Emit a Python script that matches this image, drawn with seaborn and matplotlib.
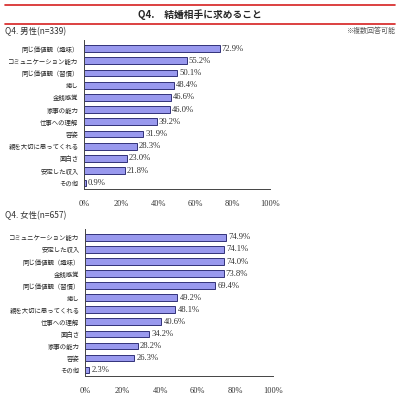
import pandas as pd
import matplotlib
matplotlib.use("Agg")
import matplotlib.pyplot as plt
import seaborn as sns
from matplotlib.lines import Line2D

sns.set_style("white")
plt.rcParams['font.family'] = ['Noto Sans CJK JP', 'DejaVu Sans']

# data
male_items = ["同じ価値観（趣味）", "コミュニケーション能力", "同じ価値観（習慣）", "癒し",
              "金銭感覚", "家事の能力", "仕事への理解", "容姿", "親を大切に思ってくれる",
              "面白さ", "安定した収入", "その他"]
male_pct = [72.9, 55.2, 50.1, 48.4, 46.6, 46.0, 39.2, 31.9, 28.3, 23.0, 21.8, 0.9]

female_items = ["コミュニケーション能力", "安定した収入", "同じ価値観（趣味）", "金銭感覚",
                "同じ価値観（習慣）", "癒し", "親を大切に思ってくれる", "仕事への理解",
                "面白さ", "家事の能力", "容姿", "その他"]
female_pct = [74.9, 74.1, 74.0, 73.8, 69.4, 49.2, 48.1, 40.6, 34.2, 28.2, 26.3, 2.3]

ticks = [0, 20, 40, 60, 80, 100]
tick_labels = ["0%", "20%", "40%", "60%", "80%", "100%"]

W, H = 400, 397
fig = plt.figure(figsize=(W / 100, H / 100), dpi=100)

def px_axes(x0, y0, x1, y1):
    return fig.add_axes([x0 / W, 1 - y1 / H, (x1 - x0) / W, (y1 - y0) / H])

# header lines + title
for y in (5, 24):
    fig.add_artist(Line2D([5 / W, 395 / W], [1 - y / H, 1 - y / H], color="#d62020", lw=1.2))
fig.text(0.5, 1 - 14.5 / H, "Q4.　結婚相手に求めること", ha="center", va="center",
         fontsize=7, fontweight="bold")
fig.text(5 / W, 1 - 32 / H, "Q4. 男性(n=339)", ha="left", va="center", fontsize=6, color="#333333")
fig.text(395 / W, 1 - 31 / H, "※複数回答可能", ha="right", va="center", fontsize=5, color="#555555")
fig.text(5 / W, 1 - 216 / H, "Q4. 女性(n=657)", ha="left", va="center", fontsize=6, color="#333333")


def draw(ax, items, vals):
    df = pd.DataFrame({"item": items, "pct": vals})
    sns.barplot(data=df, y="item", x="pct", orient="h", ax=ax, color="#9999ee",
                saturation=1, edgecolor="#1a1a66", linewidth=0.6, width=0.55)
    ax.set_xlim(0, 100)
    ax.set_xticks(ticks)
    ax.set_xticklabels(tick_labels, fontsize=6, family=["Liberation Serif"], color="#333333")
    ax.tick_params(axis="x", direction="in", length=2.5, width=0.6, pad=8, color="#444444")
    ax.tick_params(axis="y", direction="out", length=2, width=0.6, pad=2, labelsize=4.6,
                   color="#444444")
    ax.set_xlabel("")
    ax.set_ylabel("")
    for s in ("top", "right"):
        ax.spines[s].set_visible(False)
    for s in ("left", "bottom"):
        ax.spines[s].set_linewidth(0.7)
        ax.spines[s].set_color("#444444")
    ax.bar_label(ax.containers[0], fmt="%.1f%%", padding=1.5, fontsize=6.2,
                 family=["Liberation Serif"], color="#333333")
    ax.set_ylim(len(items) - 0.5, -0.7)


ax1 = px_axes(84, 40, 270, 189)
draw(ax1, male_items, male_pct)
ax2 = px_axes(85, 229, 273, 376)
draw(ax2, female_items, female_pct)

fig.savefig("out.png", dpi=100)
